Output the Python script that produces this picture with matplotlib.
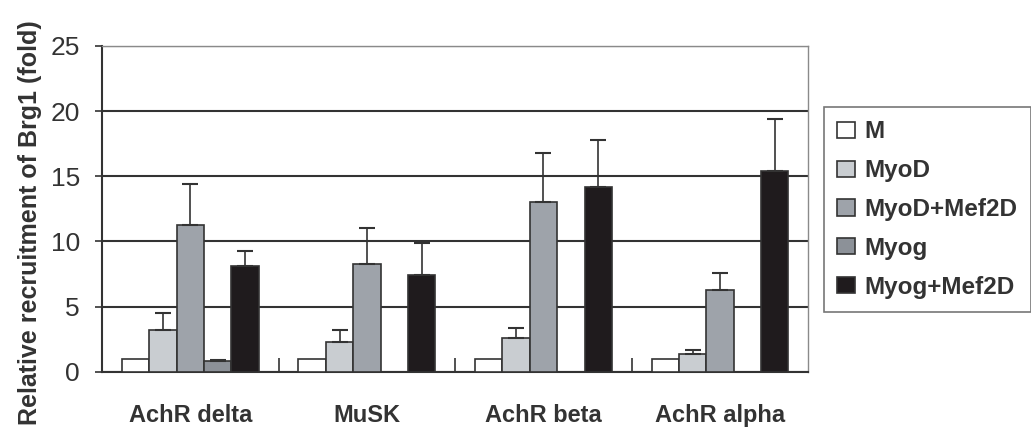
import matplotlib.pyplot as plt
import numpy as np

plt.rcParams['font.family'] = ['Liberation Sans', 'DejaVu Sans']

categories = ['AchR delta', 'MuSK', 'AchR beta', 'AchR alpha']
series = ['M', 'MyoD', 'MyoD+Mef2D', 'Myog', 'Myog+Mef2D']

# values per series (one per category), NaN = not measured
m_vals = [1.0, 1.0, 1.0, 1.0]
myod_vals = [3.2, 2.3, 2.6, 1.35]
myod_mef_vals = [11.3, 8.3, 13.05, 6.3]
myog_vals = [0.8, np.nan, np.nan, np.nan]
myog_mef_vals = [8.1, 7.4, 14.2, 15.4]

m_err = [0.0, 0.0, 0.0, 0.0]
myod_err = [1.3, 0.9, 0.8, 0.35]
myod_mef_err = [3.1, 2.7, 3.75, 1.3]
myog_err = [0.1, np.nan, np.nan, np.nan]
myog_mef_err = [1.2, 2.5, 3.6, 4.0]

colors = ['#ffffff', '#c9cdd1', '#9ea3aa', '#8c9198', '#1f1b1d']

values = [m_vals, myod_vals, myod_mef_vals, myog_vals, myog_mef_vals]
errors = [m_err, myod_err, myod_mef_err, myog_err, myog_mef_err]

fig = plt.figure(figsize=(10.31, 4.37), dpi=100)
ax = fig.add_axes([0.099, 0.149, 0.685, 0.746])

x = np.arange(len(categories))
w = 0.155
for i, (vals, errs) in enumerate(zip(values, errors)):
    pos = x + (i - 2) * w
    ax.bar(pos, vals, w, color=colors[i], edgecolor='#333333', linewidth=1.2,
           label=series[i], zorder=3)
    has_err = [e > 0 if not np.isnan(e) else False for e in errs]
    if any(has_err):
        ax.errorbar(pos, vals, yerr=[np.zeros(len(errs)), errs], fmt='none',
                    ecolor='#333333', elinewidth=1.2, capsize=6, capthick=1.5,
                    zorder=4)

ax.set_xlim(-0.5, 3.5)
ax.set_ylim(0, 25)
ax.set_yticks([0, 5, 10, 15, 20, 25])
ax.yaxis.grid(True, color='#333333', linewidth=1.5, zorder=0)
ax.set_axisbelow(True)

ax.set_xticks(x)
ax.set_xticklabels(categories, fontsize=17, fontweight='bold', color='#333333')
ax.tick_params(axis='x', length=0, pad=23)
ax.set_xticks(np.arange(0.5, 3.5, 1), minor=True)
ax.tick_params(axis='x', which='minor', direction='in', length=10, width=1.2,
               color='#333333')
ax.tick_params(axis='y', labelsize=19, colors='#333333', length=5, width=1.2,
               pad=11)

for s in ['top', 'right']:
    ax.spines[s].set_color('#8a8a8a')
    ax.spines[s].set_linewidth(1.0)
for s in ['left', 'bottom']:
    ax.spines[s].set_color('#333333')
    ax.spines[s].set_linewidth(1.5)

ax.set_ylabel('Relative recruitment of Brg1 (fold)', fontsize=18,
              fontweight='bold', color='#333333')
ax.yaxis.set_label_coords(-0.085, 0.459)

leg = fig.legend(loc='upper left', bbox_to_anchor=(0.799, 0.755),
                 prop={'size': 17.5, 'weight': 'bold'}, frameon=True,
                 fancybox=False, edgecolor='#555555', handlelength=0.74,
                 handleheight=0.66, handletextpad=0.4, labelspacing=0.65,
                 borderpad=0.55, borderaxespad=0)
leg.get_frame().set_linewidth(1.2)
for t in leg.get_texts():
    t.set_color('#333333')

fig.savefig('out.png', dpi=100)
